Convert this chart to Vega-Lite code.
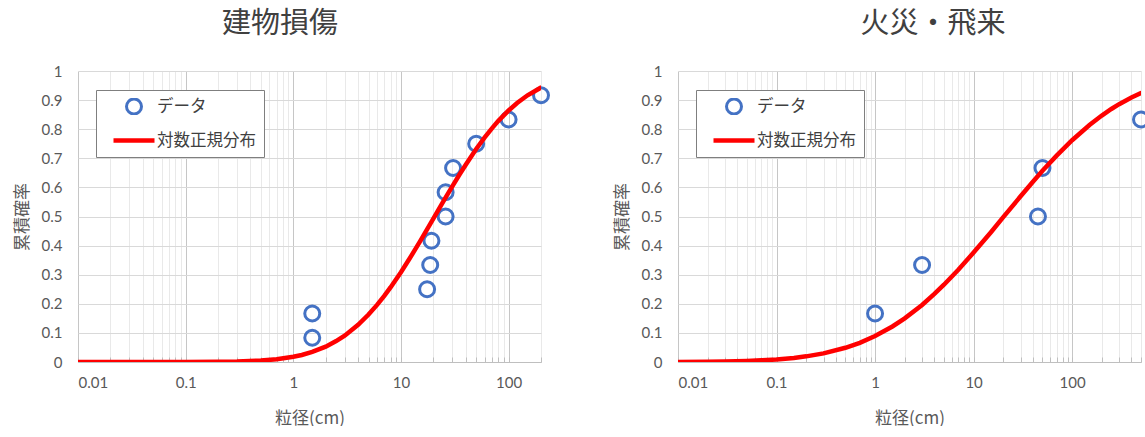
{
  "$schema": "https://vega.github.io/schema/vega-lite/v6.json",
  "padding": {"left": 13, "top": 10, "right": 0, "bottom": 0},
  "spacing": 58,
  "config": {
    "font": "Lato, 'Noto Sans CJK JP', sans-serif",
    "view": {"stroke": null},
    "axis": {
      "labelFont": "Lato, 'Noto Sans CJK JP', sans-serif",
      "labelFontSize": 15,
      "labelColor": "#595959",
      "titleFont": "'Noto Sans CJK JP', sans-serif",
      "titleFontSize": 17,
      "titleFontWeight": "normal",
      "titleColor": "#595959"
    },
    "title": {"font": "'Noto Sans CJK JP', sans-serif", "fontSize": 29, "fontWeight": "normal", "color": "#404040", "offset": 25, "frame": "group"},
    "legend": {
      "title": null,
      "strokeColor": "#7f7f7f",
      "fillColor": "#ffffff",
      "padding": 8,
      "labelFont": "'Noto Sans CJK JP', sans-serif",
      "labelFontSize": 16.5,
      "labelColor": "#404040",
      "labelOffset": 0,
      "symbolOffset": 7,
      "rowPadding": 17,
      "clipHeight": 17,
      "symbolFillColor": "transparent"
    }
  },
  "datasets": {
    "left_points": [
      {"x": 1.5, "y": 0.0833, "series": "データ"},
      {"x": 1.5, "y": 0.1667, "series": "データ"},
      {"x": 17.5, "y": 0.25, "series": "データ"},
      {"x": 18.7, "y": 0.3333, "series": "データ"},
      {"x": 19.2, "y": 0.4167, "series": "データ"},
      {"x": 26, "y": 0.5, "series": "データ"},
      {"x": 26, "y": 0.5833, "series": "データ"},
      {"x": 30.5, "y": 0.6667, "series": "データ"},
      {"x": 50, "y": 0.75, "series": "データ"},
      {"x": 100, "y": 0.8333, "series": "データ"},
      {"x": 200, "y": 0.9167, "series": "データ"}
    ],
    "left_curve": [
      {"x": 0.01, "y": 0, "series": "対数正規分布"},
      {"x": 0.02, "y": 0, "series": "対数正規分布"},
      {"x": 0.05, "y": 0, "series": "対数正規分布"},
      {"x": 0.1, "y": 0.0001, "series": "対数正規分布"},
      {"x": 0.2, "y": 0.0007, "series": "対数正規分布"},
      {"x": 0.3, "y": 0.0017, "series": "対数正規分布"},
      {"x": 0.5, "y": 0.0049, "series": "対数正規分布"},
      {"x": 0.7, "y": 0.0094, "series": "対数正規分布"},
      {"x": 1, "y": 0.0179, "series": "対数正規分布"},
      {"x": 1.2, "y": 0.0242, "series": "対数正規分布"},
      {"x": 1.5, "y": 0.0345, "series": "対数正規分布"},
      {"x": 2, "y": 0.0528, "series": "対数正規分布"},
      {"x": 2.5, "y": 0.0718, "series": "対数正規分布"},
      {"x": 3, "y": 0.0906, "series": "対数正規分布"},
      {"x": 4, "y": 0.1278, "series": "対数正規分布"},
      {"x": 5, "y": 0.163, "series": "対数正規分布"},
      {"x": 6, "y": 0.1963, "series": "対数正規分布"},
      {"x": 7, "y": 0.227, "series": "対数正規分布"},
      {"x": 8, "y": 0.2562, "series": "対数正規分布"},
      {"x": 10, "y": 0.3085, "series": "対数正規分布"},
      {"x": 12, "y": 0.3546, "series": "対数正規分布"},
      {"x": 15, "y": 0.4137, "series": "対数正規分布"},
      {"x": 20, "y": 0.4928, "series": "対数正規分布"},
      {"x": 25, "y": 0.5545, "series": "対数正規分布"},
      {"x": 30, "y": 0.6037, "series": "対数正規分布"},
      {"x": 35, "y": 0.6443, "series": "対数正規分布"},
      {"x": 40, "y": 0.678, "series": "対数正規分布"},
      {"x": 50, "y": 0.732, "series": "対数正規分布"},
      {"x": 60, "y": 0.7719, "series": "対数正規分布"},
      {"x": 70, "y": 0.803, "series": "対数正規分布"},
      {"x": 80, "y": 0.8277, "series": "対数正規分布"},
      {"x": 100, "y": 0.8643, "series": "対数正規分布"},
      {"x": 120, "y": 0.8901, "series": "対数正規分布"},
      {"x": 150, "y": 0.9165, "series": "対数正規分布"},
      {"x": 200, "y": 0.9432, "series": "対数正規分布"}
    ],
    "right_points": [
      {"x": 1, "y": 0.1667, "series": "データ"},
      {"x": 3, "y": 0.3333, "series": "データ"},
      {"x": 45, "y": 0.5, "series": "データ"},
      {"x": 50, "y": 0.6667, "series": "データ"},
      {"x": 500, "y": 0.8333, "series": "データ"}
    ],
    "right_curve": [
      {"x": 0.01, "y": 0.0003, "series": "対数正規分布"},
      {"x": 0.02, "y": 0.001, "series": "対数正規分布"},
      {"x": 0.03, "y": 0.0018, "series": "対数正規分布"},
      {"x": 0.05, "y": 0.0036, "series": "対数正規分布"},
      {"x": 0.07, "y": 0.0056, "series": "対数正規分布"},
      {"x": 0.1, "y": 0.0087, "series": "対数正規分布"},
      {"x": 0.15, "y": 0.0141, "series": "対数正規分布"},
      {"x": 0.2, "y": 0.0194, "series": "対数正規分布"},
      {"x": 0.3, "y": 0.0297, "series": "対数正規分布"},
      {"x": 0.5, "y": 0.0489, "series": "対数正規分布"},
      {"x": 0.7, "y": 0.066, "series": "対数正規分布"},
      {"x": 1, "y": 0.0891, "series": "対数正規分布"},
      {"x": 1.5, "y": 0.122, "series": "対数正規分布"},
      {"x": 2, "y": 0.15, "series": "対数正規分布"},
      {"x": 3, "y": 0.196, "series": "対数正規分布"},
      {"x": 4, "y": 0.234, "series": "対数正規分布"},
      {"x": 5, "y": 0.2656, "series": "対数正規分布"},
      {"x": 7, "y": 0.317, "series": "対数正規分布"},
      {"x": 10, "y": 0.376, "series": "対数正規分布"},
      {"x": 15, "y": 0.446, "series": "対数正規分布"},
      {"x": 20, "y": 0.4976, "series": "対数正規分布"},
      {"x": 30, "y": 0.5695, "series": "対数正規分布"},
      {"x": 40, "y": 0.6194, "series": "対数正規分布"},
      {"x": 50, "y": 0.657, "series": "対数正規分布"},
      {"x": 70, "y": 0.71, "series": "対数正規分布"},
      {"x": 100, "y": 0.762, "series": "対数正規分布"},
      {"x": 150, "y": 0.8146, "series": "対数正規分布"},
      {"x": 200, "y": 0.847, "series": "対数正規分布"},
      {"x": 250, "y": 0.8695, "series": "対数正規分布"},
      {"x": 300, "y": 0.886, "series": "対数正規分布"},
      {"x": 400, "y": 0.909, "series": "対数正規分布"},
      {"x": 500, "y": 0.924, "series": "対数正規分布"}
    ]
  },
  "hconcat": [
    {
      "width": 463,
      "height": 291,
      "title": {"text": "建物損傷", "dx": -29.5},
      "encoding": {
        "x": {"field": "x", "type": "quantitative", "scale": {"type": "log", "domain": [0.01, 200], "nice": false},
          "title": "粒径(cm)",
          "axis": {
            "values": [0.01,0.02,0.03,0.04,0.05,0.06,0.07,0.08,0.09,0.1,0.2,0.3,0.4,0.5,0.6,0.7,0.8,0.9,1,2,3,4,5,6,7,8,9,10,20,30,40,50,60,70,80,90,100,200],
            "format": "~g",
            "labelExpr": "indexof(['0.01','0.1','1','10','100'], datum.label) >= 0 ? datum.label : ''",
            "labelOverlap": false,
            "labelPadding": 18,
            "titlePadding": 20,
            "gridColor": {"condition": {"test": "datum.value == 0.01 || datum.value == 0.1 || datum.value == 1 || datum.value == 10 || datum.value == 100", "value": "#c6c6c6"}, "value": "#e9e9e9"},
            "tickColor": "#bfbfbf",
            "tickSize": -5,
            "domainColor": "#bfbfbf"
          }
        },
        "y": {"field": "y", "type": "quantitative", "scale": {"domain": [0, 1], "nice": false},
          "title": "累積確率",
          "axis": {
            "values": [0,0.1,0.2,0.3,0.4,0.5,0.6,0.7,0.8,0.9,1],
            "format": "~g",
            "labelOverlap": false,
            "ticks": false,
            "domain": false,
            "gridColor": "#d9d9d9",
            "labelPadding": 16,
            "titlePadding": 10
          }
        }
      },
      "layer": [
        {
          "data": {"name": "left_points"},
          "mark": {"type": "point", "filled": false, "opacity": 1},
          "encoding": {
            "color": {"field": "series", "type": "nominal",
              "scale": {"domain": ["データ", "対数正規分布"], "range": ["#4472C4", "#FF0000"]},
              "legend": {"orient": "none", "legendX": 18, "legendY": 19}
            },
            "shape": {"field": "series", "type": "nominal",
              "scale": {"domain": ["データ", "対数正規分布"], "range": ["circle", "stroke"]},
              "legend": {"orient": "none", "legendX": 18, "legendY": 19}
            },
            "size": {"field": "series", "type": "nominal",
              "scale": {"domain": ["データ", "対数正規分布"], "range": [225, 1681]},
              "legend": {"orient": "none", "legendX": 18, "legendY": 19}
            },
            "strokeWidth": {"field": "series", "type": "nominal",
              "scale": {"domain": ["データ", "対数正規分布"], "range": [3, 4.5]},
              "legend": {"orient": "none", "legendX": 18, "legendY": 19}
            }
          }
        },
        {
          "data": {"name": "left_curve"},
          "mark": {"type": "line", "strokeWidth": 4.5, "strokeCap": "round", "clip": true},
          "encoding": {
            "color": {"field": "series", "type": "nominal"}
          }
        }
      ]
    },
    {
      "width": 463,
      "height": 291,
      "title": {"text": "火災・飛来", "dx": 23.5},
      "encoding": {
        "x": {"field": "x", "type": "quantitative", "scale": {"type": "log", "domain": [0.01, 500], "nice": false},
          "title": "粒径(cm)",
          "axis": {
            "values": [0.01,0.02,0.03,0.04,0.05,0.06,0.07,0.08,0.09,0.1,0.2,0.3,0.4,0.5,0.6,0.7,0.8,0.9,1,2,3,4,5,6,7,8,9,10,20,30,40,50,60,70,80,90,100,200,300,400,500],
            "format": "~g",
            "labelExpr": "indexof(['0.01','0.1','1','10','100'], datum.label) >= 0 ? datum.label : ''",
            "labelOverlap": false,
            "labelPadding": 18,
            "titlePadding": 20,
            "gridColor": {"condition": {"test": "datum.value == 0.01 || datum.value == 0.1 || datum.value == 1 || datum.value == 10 || datum.value == 100", "value": "#c6c6c6"}, "value": "#e9e9e9"},
            "tickColor": "#bfbfbf",
            "tickSize": -5,
            "domainColor": "#bfbfbf"
          }
        },
        "y": {"field": "y", "type": "quantitative", "scale": {"domain": [0, 1], "nice": false},
          "title": "累積確率",
          "axis": {
            "values": [0,0.1,0.2,0.3,0.4,0.5,0.6,0.7,0.8,0.9,1],
            "format": "~g",
            "labelOverlap": false,
            "ticks": false,
            "domain": false,
            "gridColor": "#d9d9d9",
            "labelPadding": 16,
            "titlePadding": 10
          }
        }
      },
      "layer": [
        {
          "data": {"name": "right_points"},
          "mark": {"type": "point", "filled": false, "opacity": 1},
          "encoding": {
            "color": {"field": "series", "type": "nominal",
              "scale": {"domain": ["データ", "対数正規分布"], "range": ["#4472C4", "#FF0000"]},
              "legend": {"orient": "none", "legendX": 18, "legendY": 19}
            },
            "shape": {"field": "series", "type": "nominal",
              "scale": {"domain": ["データ", "対数正規分布"], "range": ["circle", "stroke"]},
              "legend": {"orient": "none", "legendX": 18, "legendY": 19}
            },
            "size": {"field": "series", "type": "nominal",
              "scale": {"domain": ["データ", "対数正規分布"], "range": [225, 1681]},
              "legend": {"orient": "none", "legendX": 18, "legendY": 19}
            },
            "strokeWidth": {"field": "series", "type": "nominal",
              "scale": {"domain": ["データ", "対数正規分布"], "range": [3, 4.5]},
              "legend": {"orient": "none", "legendX": 18, "legendY": 19}
            }
          }
        },
        {
          "data": {"name": "right_curve"},
          "mark": {"type": "line", "strokeWidth": 4.5, "strokeCap": "round", "clip": true},
          "encoding": {
            "color": {"field": "series", "type": "nominal"}
          }
        }
      ]
    }
  ],
  "resolve": {
    "scale": {"color": "independent", "x": "independent", "shape": "independent", "size": "independent", "strokeWidth": "independent"},
    "legend": {"color": "independent", "shape": "independent", "size": "independent", "strokeWidth": "independent"}
  }
}
